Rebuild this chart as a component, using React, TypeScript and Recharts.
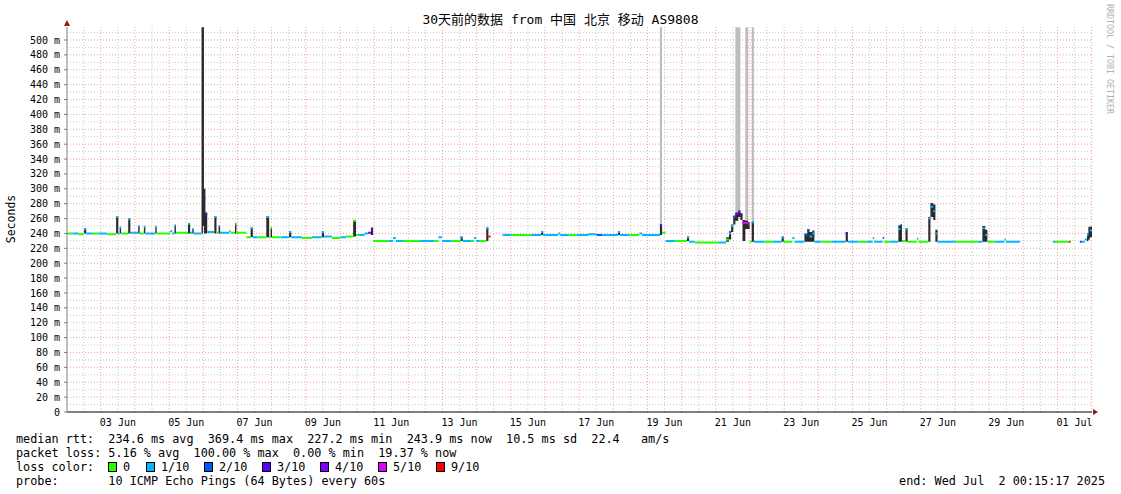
import { ComposedChart, Line, Area, XAxis, YAxis, CartesianGrid, ReferenceDot } from 'recharts';

// median rtt samples: hours since Mon Jun 2 00:15:17, median in ms, loss in tenths
const sampleHour = [
  0, 4, 8, 12, 13.5, 18, 22, 28, 34.5, 36,
  37, 38, 43, 44.5, 50, 51, 54, 55, 62, 63,
  72.5, 74, 75.5, 76.5, 85, 86.5, 88, 89, 94.5, 95.5,
  96.2, 97.2, 98.5, 103.5, 105, 106.5, 107.5, 114, 115, 118,
  119, 126, 129, 130.5, 134, 140, 142, 143, 144, 150,
  156, 157.5, 165, 172, 179, 180.5, 186, 192, 196, 201,
  203, 205, 209, 211.5, 213.5, 215, 226, 229, 231, 236,
  248, 258, 261, 263.5, 270, 276.5, 278, 284, 286, 287.5,
  290, 294.5, 296, 297.5, 306, 312, 326, 333, 334.5, 345,
  346.5, 352, 358, 366, 372, 376, 387, 388.5, 395, 402,
  404, 416.5, 418, 420.5, 427, 435.5, 437, 441, 458, 463,
  465, 466.5, 468, 469.5, 471.5, 473, 474.5, 476.5, 478.5, 479.5,
  481, 482.5, 490, 496, 502, 503.5, 509.5, 511, 518, 520,
  521.5, 523.5, 525, 530, 537, 547, 548.5, 556, 562, 566,
  567, 573, 574, 578, 584, 585.5, 586.5, 589, 590.5, 597,
  598, 605, 606.5, 608.5, 610, 611.5, 624, 640, 643, 645,
  646.5, 652, 658.5, 659.5, 669.5, 692.5, 694, 704, 705, 711.5,
  712.5, 715, 716.5, 717.5, 718.5,
];
const medianMs: (number | null)[] = [
  240, 240, 239, 246, 240, 240, 240, 239, 262, 240,
  248, 240, 259, 241, 250, 240, 249, 240, 249, 240,
  243, 240, 251, 241, 253, 241, 246, 240, 370, 360,
  288, 266, 242, 262, 241, 250, 241, 243, 241, 253,
  241, 235, 247, 235, 235, 262, 235, 247, 235, 235,
  242, 235, 234, 235, 242, 236, 234, 235, 236, 257,
  238, 238, 240, 241, 246, 230, 230, 234, 230, 230,
  230, 230, 235, 230, 230, 235, 230, 230, 234, 230,
  230, 247, 236, null, 238, 238, 238, 242, 238, 240,
  238, 238, 238, 239, 238, 238, 242, 238, 238, 240,
  238, 251, 241, 230, 230, 235, 229, 228, 228, 232,
  240, 250, 262, 266, 269, 265, 254, 254, 252, 229,
  255, 229, 229, 229, 235, 229, 234, 229, 238, 244,
  236, 240, 229, 229, 229, 240, 229, 229, 229, 234,
  229, 234, 229, 229, 246, 251, 230, 246, 229, 233,
  229, 260, 276, 270, 240, 229, 229, 229, 247, 238,
  229, 229, 232, 229, null, 229, 229, 229, null, 229,
  229, 232, 238, 245, 244,
];
const lossTenths = [
  0, 1, 0, 1, 1, 0, 1, 0, 1, 1,
  1, 0, 1, 1, 1, 0, 1, 1, 1, 0,
  1, 1, 1, 0, 1, 1, 1, 1, 9, 9,
  3, 3, 1, 1, 0, 1, 1, 1, 0, 0,
  0, 0, 1, 1, 0, 1, 0, 0, 0, 1,
  1, 1, 0, 1, 1, 1, 0, 1, 0, 0,
  0, 1, 1, 3, 3, 0, 1, 1, 1, 0,
  1, 0, 1, 1, 0, 1, 1, 0, 1, 1,
  0, 1, 9, 0, 1, 0, 1, 1, 1, 1,
  1, 0, 1, 1, 2, 1, 1, 1, 0, 1,
  1, 3, 0, 1, 0, 1, 1, 0, 1, 0,
  1, 1, 2, 3, 3, 3, 5, 5, 5, 0,
  1, 1, 0, 1, 1, 0, 1, 1, 2, 2,
  1, 1, 1, 0, 1, 3, 1, 0, 1, 1,
  1, 2, 0, 1, 1, 2, 0, 1, 0, 1,
  0, 1, 1, 1, 1, 1, 0, 1, 1, 1,
  0, 1, 1, 1, 0, 1, 0, 9, 0, 3,
  1, 1, 1, 2, 1,
];

// dark smoke (spread of the 10 pings) where it shows beside the median line
const smokeHour = [
  12, 34.5, 37, 43, 50, 54, 62, 75.5, 85, 88,
  94.5, 95.5, 96.2, 97.2, 103.5, 106.5, 118, 129, 140, 143,
  156, 179, 201, 213.5, 276.5, 294.5, 333, 387, 416.5, 435.5,
  463, 465, 466.5, 468, 469.5, 471.5, 473, 474.5, 476.5, 478.5,
  481, 502, 518, 520, 521.5, 523.5, 547, 584, 585.5, 589,
  605, 606.5, 608.5, 610, 643, 645, 716.5, 717.5, 718.5,
];
const smokeLowMs = [
  240, 240, 240, 240, 240, 240, 240, 240, 240, 240,
  240, 250, 240, 240, 240, 240, 240, 235, 235, 235,
  235, 235, 236, 238, 230, 230, 238, 238, 238, 230,
  229, 232, 242, 252, 257, 262, 258, 230, 246, 246,
  229, 229, 229, 229, 229, 229, 229, 229, 229, 229,
  229, 262, 258, 229, 229, 229, 230, 232, 235,
];
const smokeHighMs = [
  247, 263, 248, 260, 250, 249, 249, 251, 253, 246,
  517, 517, 300, 268, 263, 250, 254, 248, 263, 248,
  243, 243, 258, 248, 236, 248, 243, 243, 252, 236,
  235, 243, 252, 264, 268, 271, 267, 258, 257, 255,
  256, 236, 240, 246, 242, 244, 242, 251, 252, 247,
  262, 281, 279, 245, 250, 245, 240, 249, 249,
];

// pings far above the graph (light smoke up to the top edge)
const outlierHour = [416.5, 469.5, 471.5, 476.5, 481];
const outlierTopMs = [517, 517, 517, 517, 517];

const xLabelHour = [35.75, 83.75, 131.75, 179.75, 227.75, 275.75, 323.75, 371.75, 419.75, 467.75, 515.75, 563.75, 611.75, 659.75, 707.75];
const xLabelText = ['03 Jun', '05 Jun', '07 Jun', '09 Jun', '11 Jun', '13 Jun', '15 Jun', '17 Jun', '19 Jun', '21 Jun', '23 Jun', '25 Jun', '27 Jun', '29 Jun', '01 Jul'];
const yTickMs = [0, 20, 40, 60, 80, 100, 120, 140, 160, 180, 200, 220, 240, 260, 280, 300, 320, 340, 360, 380, 400, 420, 440, 460, 480, 500];

const lossLevels = [0, 1, 2, 3, 4, 5, 9];
const lossLabels = ['0', '1/10', '2/10', '3/10', '4/10', '5/10', '9/10'];
const lossColors = ['#26ff00', '#00b8ff', '#0059ff', '#5e00ff', '#7e00ff', '#dd00ff', '#ff0000'];

const END_HOUR = 720;
const Y_TOP = 517.5;
const MONO = "'DejaVu Sans Mono', 'Noto Sans CJK SC', monospace";

// each sample becomes a flat step: start row, end row, then a break row so the
// median has no vertical joins (smokeping draws it as a thin stacked band)
function buildRows() {
  const rows: Record<string, any>[] = [];
  sampleHour.forEach((h, i) => {
    const end = i + 1 < sampleHour.length ? sampleHour[i + 1] : END_HOUR;
    const med = medianMs[i];
    const si = smokeHour.indexOf(h);
    const oi = outlierHour.indexOf(h);
    const smoke = si >= 0 ? [smokeLowMs[si], smokeHighMs[si]] : null;
    const outlier = oi >= 0 ? [si >= 0 ? smokeLowMs[si] : med, outlierTopMs[oi]] : null;
    const a: Record<string, any> = { t: h, smoke, outlier };
    const b: Record<string, any> = { t: end, smoke, outlier };
    const gap: Record<string, any> = { t: end, smoke, outlier };
    lossLevels.forEach((l) => {
      a['c' + l] = null;
      b['c' + l] = null;
      gap['c' + l] = null;
    });
    if (med !== null) {
      a['c' + lossTenths[i]] = med;
      b['c' + lossTenths[i]] = med;
    }
    rows.push(a, b, gap);
  });
  return rows;
}

const UpArrow = (props: any) => (
  <polygon points={`${props.cx - 3},${props.cy - 1} ${props.cx + 3},${props.cy - 1} ${props.cx},${props.cy - 7}`} fill="#8b1a1a" />
);
const RightArrow = (props: any) => (
  <polygon points={`${props.cx + 1},${props.cy - 3} ${props.cx + 1},${props.cy + 3} ${props.cx + 6},${props.cy}`} fill="#8b1a1a" />
);

const minorY = Array.from({ length: 26 }, (_, k) => 10 + 20 * k);
const majorY = yTickMs.slice(1);
const noonX = Array.from({ length: 30 }, (_, k) => 11.75 + 24 * k);
const midnightX = Array.from({ length: 30 }, (_, k) => 23.75 + 24 * k);

// grid positions follow the same linear domains as the axes
const yGen = (vals: number[]) => (p: any) => {
  const s = p?.yAxis?.scale;
  if (typeof s === 'function') return vals.map((v) => s(v));
  const o = p.offset;
  return vals.map((v) => o.top + o.height * (1 - v / Y_TOP));
};
const xGen = (vals: number[]) => (p: any) => {
  const s = p?.xAxis?.scale;
  if (typeof s === 'function') return vals.map((v) => s(v));
  const o = p.offset;
  return vals.map((v) => o.left + (o.width * v) / END_HOUR);
};

export default function App() {
  const rows = buildRows();
  const legendTop = 432;
  const legendFont = 11.8;

  return (
    <div style={{ position: 'absolute', left: 0, top: 0, width: 1121, height: 494, background: '#fff', fontFamily: MONO, color: '#000' }}>
      <ComposedChart width={1121} height={494} data={rows} margin={{ top: 27, right: 29, bottom: 62, left: 7 }}>
        <CartesianGrid
          stroke="#c8c8c8"
          strokeDasharray="1 2"
          horizontalCoordinatesGenerator={yGen(minorY)}
          verticalCoordinatesGenerator={xGen(noonX)}
        />
        <CartesianGrid
          stroke="#f3a0a0"
          strokeDasharray="1 2"
          horizontalCoordinatesGenerator={yGen(majorY)}
          verticalCoordinatesGenerator={xGen(midnightX)}
        />
        <XAxis
          dataKey="t"
          type="number"
          domain={[0, END_HOUR]}
          ticks={xLabelHour}
          interval={0}
          tickFormatter={(v) => xLabelText[xLabelHour.indexOf(v)] ?? ''}
          allowDataOverflow
          height={20}
          tickLine={false}
          tickMargin={1}
          axisLine={{ stroke: '#000' }}
          tick={{ fontSize: 10, fontFamily: MONO, fill: '#000' }}
        />
        <YAxis
          type="number"
          domain={[0, Y_TOP]}
          ticks={yTickMs}
          interval={0}
          allowDataOverflow
          width={60}
          tickSize={3}
          tickMargin={4}
          tickFormatter={(v) => (v === 0 ? '0' : `${v} m`)}
          axisLine={{ stroke: '#808080' }}
          tickLine={{ stroke: '#808080' }}
          tick={{ fontSize: 10, fontFamily: MONO, fill: '#000' }}
        />
        <Area dataKey="outlier" type="linear" fill="#bdbdbd" fillOpacity={1} stroke="none" isAnimationActive={false} connectNulls={false} />
        <Area dataKey="smoke" type="linear" fill="#2a2a2a" fillOpacity={1} stroke="none" isAnimationActive={false} connectNulls={false} />
        {lossLevels.map((l, k) => (
          <Line
            key={l}
            dataKey={'c' + l}
            type="linear"
            stroke={lossColors[k]}
            strokeWidth={2}
            dot={false}
            activeDot={false}
            connectNulls={false}
            isAnimationActive={false}
          />
        ))}
        <ReferenceDot x={0} y={Y_TOP} ifOverflow="visible" shape={UpArrow} />
        <ReferenceDot x={END_HOUR} y={0} ifOverflow="visible" shape={RightArrow} />
      </ComposedChart>

      <div style={{ position: 'absolute', left: 0, top: 12, width: 1121, textAlign: 'center', fontSize: 13, lineHeight: '16px', whiteSpace: 'pre' }}>
        30天前的数据 from 中国 北京 移动 AS9808
      </div>
      <div style={{ position: 'absolute', left: -39, top: 212, width: 100, height: 14, textAlign: 'center', fontSize: 11.5, lineHeight: '14px', transform: 'rotate(-90deg)' }}>
        Seconds
      </div>
      <div style={{ position: 'absolute', left: 1050, top: 54, width: 120, height: 10, textAlign: 'center', fontSize: 8.3, lineHeight: '10px', color: '#b0b0b0', transform: 'rotate(90deg)', whiteSpace: 'pre' }}>
        RRDTOOL / TOBI OETIKER
      </div>

      <div style={{ position: 'absolute', left: 16, top: legendTop, fontSize: legendFont, lineHeight: '14px', whiteSpace: 'pre' }}>
        {'median rtt:  234.6 ms avg  369.4 ms max  227.2 ms min  243.9 ms now  10.5 ms sd  22.4   am/s'}
        {'\npacket loss: 5.16 % avg  100.00 % max  0.00 % min  19.37 % now'}
        {'\nloss color:'}
        {'\nprobe:       10 ICMP Echo Pings (64 Bytes) every 60s'}
      </div>
      {lossLabels.map((lab, k) => {
        const boxLeft = [108, 146, 204, 262, 320, 378, 436][k];
        return (
          <div key={lab}>
            <div style={{ position: 'absolute', left: boxLeft, top: legendTop + 30, width: 9, height: 10, boxSizing: 'border-box', border: '1px solid #000', background: lossColors[k] }} />
            <div style={{ position: 'absolute', left: boxLeft + 15, top: legendTop + 28, fontSize: legendFont, lineHeight: '14px', whiteSpace: 'pre' }}>{lab}</div>
          </div>
        );
      })}
      <div style={{ position: 'absolute', right: 16, top: legendTop + 42, fontSize: legendFont, lineHeight: '14px', whiteSpace: 'pre' }}>
        {'end: Wed Jul  2 00:15:17 2025'}
      </div>
    </div>
  );
}
